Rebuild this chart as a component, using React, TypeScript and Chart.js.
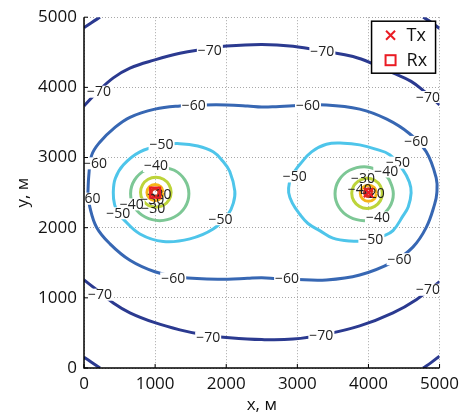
import React, { useEffect, useRef } from "react";
import { Chart, registerables } from "chart.js";

Chart.register(...registerables);

const FONT = '"Open Sans", "DejaVu Sans", sans-serif';

// Axis ticks (metres)
const xTickValues = [0, 1000, 2000, 3000, 4000, 5000];
const yTickValues = [0, 1000, 2000, 3000, 4000, 5000];
const xTitle = "x, м";
const yTitle = "y, м";

// Transmitter / receiver positions
const txPoint = [{ x: 4000, y: 2500 }];
const rxPoint = [{ x: 1000, y: 2500 }];

// Contour lines: [x, y] in metres
const c70Top = [[0, 3736], [178, 3924], [412, 4135], [646, 4275], [997, 4392], [1348, 4486], [1676, 4542], [2004, 4588], [2500, 4612], [2940, 4585], [3409, 4509], [3783, 4439], [4100, 4320], [4345, 4205], [4600, 4085], [4800, 3930], [5000, 3750]];
const c70Bottom = [[0, 1255], [178, 1115], [412, 927], [646, 787], [997, 646], [1348, 544], [1700, 470], [2004, 435], [2500, 405], [2940, 412], [3409, 483], [3877, 600], [4345, 787], [4672, 974], [5000, 1232]];
const c70CornerTL = [[0, 4850], [110, 4925], [225, 5000]];
const c70CornerTR = [[4770, 5000], [4885, 4925], [5000, 4840]];
const c70CornerBL = [[0, 155], [110, 80], [225, 0]];
const c70CornerBR = [[4770, 0], [4885, 80], [5000, 170]];
const c60Loop = [[55, 2500], [68, 2750], [108, 3034], [225, 3222], [412, 3409], [646, 3573], [997, 3690], [1348, 3736], [1700, 3750], [2004, 3750], [2300, 3735], [2500, 3720], [2700, 3725], [2940, 3738], [3409, 3750], [3877, 3690], [4251, 3550], [4579, 3339], [4813, 3081], [4953, 2706], [4962, 2500], [4930, 2332], [4813, 2004], [4625, 1723], [4345, 1513], [3877, 1325], [3409, 1255], [2940, 1264], [2700, 1275], [2500, 1285], [2300, 1278], [2004, 1264], [1348, 1292], [997, 1372], [646, 1536], [365, 1770], [178, 2004], [84, 2285], [55, 2500]];
const c50Left = [[480, 2210], [430, 2330], [412, 2500], [440, 2700], [552, 2893], [787, 3081], [1114, 3180], [1348, 3198], [1600, 3165], [1816, 3081], [1950, 2950], [2050, 2800], [2121, 2520], [2100, 2350], [2027, 2191], [1816, 1980], [1489, 1840], [1114, 1803], [787, 1910], [552, 2121], [480, 2210]];
const c50Right = [[2935, 2770], [3034, 2900], [3200, 3080], [3409, 3190], [3650, 3205], [3877, 3180], [4100, 3120], [4298, 3040], [4485, 2823], [4575, 2650], [4600, 2496], [4560, 2300], [4485, 2168], [4345, 1958], [4204, 1880], [4017, 1817], [3736, 1810], [3500, 1850], [3315, 1958], [3150, 2060], [3034, 2191], [2930, 2350], [2878, 2500], [2890, 2650], [2935, 2770]];
const c40Left = [[1065, 2870], [860, 2818], [710, 2678], [655, 2485], [710, 2292], [860, 2152], [1065, 2100], [1270, 2152], [1420, 2292], [1475, 2485], [1420, 2678], [1270, 2818], [1065, 2870]];
const c40Right = [[4230, 2757], [4145, 2818], [3940, 2870], [3735, 2818], [3585, 2678], [3530, 2485], [3585, 2292], [3735, 2152], [3940, 2100], [4145, 2152], [4295, 2292], [4350, 2485], [4295, 2678], [4230, 2757]];
const c30Left = [[1010, 2290], [1118, 2319], [1196, 2397], [1225, 2505], [1196, 2613], [1118, 2691], [1010, 2720], [902, 2691], [824, 2613], [795, 2505], [824, 2397], [902, 2319], [1010, 2290]];
const c30Right = [[3872, 2676], [3794, 2598], [3765, 2490], [3794, 2382], [3872, 2304], [3980, 2275], [4088, 2304], [4166, 2382], [4195, 2490], [4166, 2598], [4088, 2676], [3980, 2705], [3872, 2676]];
const c20Left = [[1115, 2500], [1081, 2581], [1000, 2615], [919, 2581], [885, 2500], [919, 2419], [1000, 2385], [1081, 2419], [1115, 2500]];
const c20Right = [[4115, 2490], [4081, 2571], [4000, 2605], [3919, 2571], [3885, 2490], [3919, 2409], [4000, 2375], [4081, 2409], [4115, 2490]];
const c10Left = [[1055, 2500], [1039, 2539], [1000, 2555], [961, 2539], [945, 2500], [961, 2461], [1000, 2445], [1039, 2461], [1055, 2500]];
const c10Right = [[4055, 2500], [4039, 2539], [4000, 2555], [3961, 2539], [3945, 2500], [3961, 2461], [4000, 2445], [4039, 2461], [4055, 2500]];

const levelColors: Record<string, string> = {
  "-70": "#2b3a90",
  "-60": "#3767b3",
  "-50": "#4ec5ea",
  "-40": "#7dc795",
  "-30": "#bdd43a",
  "-20": "#f6b41a",
  "-10": "#d8321f",
};

const contourLines: { level: string; points: number[][] }[] = [
  { level: "-10", points: c10Left },
  { level: "-10", points: c10Right },
  { level: "-20", points: c20Left },
  { level: "-20", points: c20Right },
  { level: "-30", points: c30Left },
  { level: "-30", points: c30Right },
  { level: "-40", points: c40Left },
  { level: "-40", points: c40Right },
  { level: "-50", points: c50Left },
  { level: "-50", points: c50Right },
  { level: "-60", points: c60Loop },
  { level: "-70", points: c70Top },
  { level: "-70", points: c70Bottom },
  { level: "-70", points: c70CornerTL },
  { level: "-70", points: c70CornerTR },
  { level: "-70", points: c70CornerBL },
  { level: "-70", points: c70CornerBR },
];

// Inline contour labels: [text, x, y, white background?]
const contourLabels: [string, number, number, boolean][] = [
  ["−70", 1770, 4532, true], ["−70", 3352, 4518, true], ["−70", 211, 3938, true], ["−70", 4836, 3862, true],
  ["−60", 1545, 3736, true], ["−60", 3150, 3736, true], ["−60", 4672, 3222, true], ["−60", 154, 2917, true], ["−60", 63, 2412, true],
  ["−50", 1091, 3188, true], ["−40", 1011, 2879, true], ["−40", 670, 2332, true], ["−50", 482, 2205, true],
  ["−30", 974, 2271, false], ["−30", 960, 2400, false], ["−20", 1060, 2470, false], ["−50", 1920, 2121, true],
  ["−60", 1254, 1278, true], ["−60", 2856, 1270, true], ["−60", 4438, 1551, true],
  ["−70", 225, 1045, true], ["−70", 1746, 435, true], ["−70", 3338, 459, true], ["−70", 4836, 1115, true],
  ["−50", 2963, 2730, true], ["−50", 4415, 2927, true], ["−40", 4251, 2800, true], ["−30", 3923, 2706, false],
  ["−40", 3877, 2542, false], ["−20", 4060, 2480, false], ["−40", 4134, 2145, true], ["−50", 4041, 1831, true],
];

const MARK_RED = "#ea1c24";

const labelPlugin = {
  id: "contourLabels",
  afterDatasetDraw(chart: any, args: any) {
    if (args.index !== 2) return;
    const { ctx, chartArea, scales } = chart;
    ctx.save();
    ctx.beginPath();
    ctx.rect(chartArea.left, chartArea.top, chartArea.right - chartArea.left, chartArea.bottom - chartArea.top);
    ctx.clip();
    ctx.font = `14px ${FONT}`;
    ctx.textAlign = "center";
    ctx.textBaseline = "middle";
    for (const [t, x, y, bg] of contourLabels) {
      const px = scales.x.getPixelForValue(x);
      const py = scales.y.getPixelForValue(y);
      const w = ctx.measureText(t).width;
      if (bg) {
        ctx.fillStyle = "#ffffff";
        ctx.fillRect(px - w / 2 - 1, py - 6, w + 2, 12);
      }
      ctx.fillStyle = "#222222";
      ctx.fillText(t, px, py + 0.5);
    }
    ctx.restore();
  },
};

const framePlugin = {
  id: "frame",
  afterDraw(chart: any) {
    const { ctx, chartArea, scales } = chart;
    const { left, right, top, bottom } = chartArea;
    ctx.save();
    // axes
    ctx.strokeStyle = "#000";
    ctx.lineWidth = 1.5;
    ctx.beginPath();
    ctx.moveTo(left, top);
    ctx.lineTo(left, bottom);
    ctx.lineTo(right, bottom);
    ctx.stroke();
    // inward ticks
    ctx.lineWidth = 1;
    ctx.beginPath();
    for (const v of xTickValues) {
      const px = scales.x.getPixelForValue(v);
      ctx.moveTo(px, bottom);
      ctx.lineTo(px, bottom - 4);
    }
    for (const v of yTickValues) {
      const py = scales.y.getPixelForValue(v);
      ctx.moveTo(left, py);
      ctx.lineTo(left + 4, py);
    }
    ctx.stroke();
    // titles
    ctx.fillStyle = "#111";
    ctx.font = `17px ${FONT}`;
    ctx.textAlign = "center";
    ctx.textBaseline = "alphabetic";
    ctx.fillText(xTitle, (left + right) / 2, bottom + 42);
    ctx.save();
    ctx.translate(left - 56, (top + bottom) / 2);
    ctx.rotate(-Math.PI / 2);
    ctx.fillText(yTitle, 0, 0);
    ctx.restore();
    // legend
    const w = 64, h = 52;
    const lx = right - 4 - w, ly = top + 4;
    ctx.fillStyle = "#fff";
    ctx.fillRect(lx, ly, w, h);
    ctx.strokeStyle = "#000";
    ctx.lineWidth = 1.5;
    ctx.strokeRect(lx, ly, w, h);
    const labels = [chart.data.datasets[0].label, chart.data.datasets[1].label];
    let cx = lx + 19, cy = ly + 14;
    ctx.strokeStyle = MARK_RED;
    ctx.lineWidth = 2;
    ctx.beginPath();
    ctx.moveTo(cx - 4.5, cy - 4.5); ctx.lineTo(cx + 4.5, cy + 4.5);
    ctx.moveTo(cx + 4.5, cy - 4.5); ctx.lineTo(cx - 4.5, cy + 4.5);
    ctx.stroke();
    cy = ly + 39;
    ctx.strokeRect(cx - 5, cy - 5, 10, 10);
    ctx.fillStyle = "#111";
    ctx.font = `18px ${FONT}`;
    ctx.textAlign = "left";
    ctx.textBaseline = "middle";
    ctx.fillText(labels[0], lx + 35, ly + 15);
    ctx.fillText(labels[1], lx + 35, ly + 40);
    ctx.restore();
  },
};

export default function App() {
  const ref = useRef<HTMLCanvasElement>(null);
  useEffect(() => {
    const canvas = ref.current;
    if (!canvas) return;
    const toPts = (a: number[][]) => a.map(([x, y]) => ({ x, y }));
    const contourDatasets = contourLines.map((c) => ({
      label: c.level,
      data: toPts(c.points),
      showLine: true,
      borderColor: levelColors[c.level],
      backgroundColor: levelColors[c.level],
      borderWidth: 3,
      pointRadius: 0,
      pointHoverRadius: 0,
      tension: 0.4,
      fill: false,
    }));
    const chart = new Chart(canvas, {
      type: "scatter",
      data: {
        datasets: [
          { label: "Tx", data: txPoint, pointStyle: "crossRot", pointRadius: 6.5, borderColor: MARK_RED, backgroundColor: MARK_RED, borderWidth: 2.2, showLine: false },
          { label: "Rx", data: rxPoint, pointStyle: "rect", pointRadius: 7, borderColor: MARK_RED, backgroundColor: "rgba(0,0,0,0)", borderWidth: 2.2, showLine: false },
          ...contourDatasets,
        ] as any,
      },
      options: {
        responsive: false,
        animation: false,
        devicePixelRatio: 1,
        events: [],
        layout: { padding: { left: 0, top: 12, right: 25, bottom: 0 } },
        plugins: { legend: { display: false }, tooltip: { enabled: false } },
        scales: {
          x: {
            type: "linear",
            min: 0,
            max: 5000,
            afterBuildTicks: (s: any) => { s.ticks = xTickValues.map((v) => ({ value: v })); },
            afterFit: (s: any) => { s.height = 46; },
            ticks: { color: "#111", font: { size: 17, family: FONT }, padding: 6, maxRotation: 0, autoSkip: false, callback: (v: any) => String(v) },
            grid: { color: "#a8a8a8", lineWidth: 1, drawTicks: false, borderDash: [1, 2] } as any,
            border: { display: false, dash: [1, 2] },
          },
          y: {
            type: "linear",
            min: 0,
            max: 5000,
            afterBuildTicks: (s: any) => { s.ticks = yTickValues.map((v) => ({ value: v })); },
            afterFit: (s: any) => { s.width = 84; },
            ticks: { color: "#111", font: { size: 17, family: FONT }, padding: 7, autoSkip: false, callback: (v: any) => String(v) },
            grid: { color: "#a8a8a8", lineWidth: 1, drawTicks: false, borderDash: [1, 2] } as any,
            border: { display: false, dash: [1, 2] },
          },
        },
      },
      plugins: [labelPlugin, framePlugin],
    });
    return () => chart.destroy();
  }, []);
  return (
    <div style={{ position: "fixed", left: 0, top: 0, width: 465, height: 414, background: "#fff" }}>
      <canvas ref={ref} width={465} height={414} style={{ display: "block", width: 465, height: 414 }} />
    </div>
  );
}
